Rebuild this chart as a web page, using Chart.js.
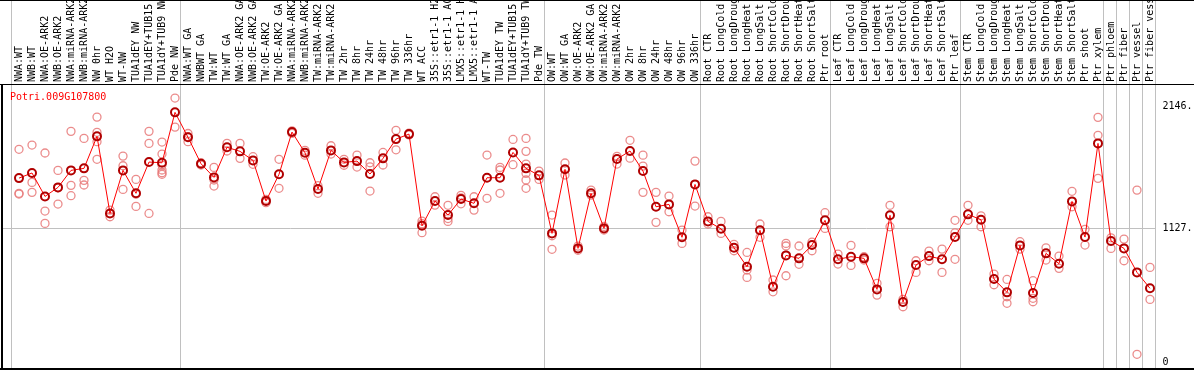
<!DOCTYPE html><html lang="en"><head>
<meta charset="UTF-8">
<title>Potri.009G107800</title>
<script src="https://cdn.jsdelivr.net/npm/chart.js@4.4.0/dist/chart.umd.min.js"></script>
<style>
  html, body { margin: 0; padding: 0; background: #fff; }
  canvas { display: block; }
</style>
</head>
<body>
<canvas id="myChart" width="1194" height="370"></canvas>
<script>
  const geneId = 'Potri.009G107800';

  const samples = [
    'NWA:WT', 'NWB:WT', 'NWA:OE-ARK2', 'NWB:OE-ARK2', 'NWA:miRNA-ARK2', 'NWB:miRNA-ARK2',
    'NW 0hr', 'WT H2O', 'WT-NW', 'TUA1dEY NW', 'TUA1dEY+TUB15 NW', 'TUA1dY+TUB9 NW', 'Pde NW',
    'NWA:WT GA', 'NWBWT GA', 'TW:WT', 'TW:WT GA', 'NWA:OE-ARK2 GA', 'NWB:OE-ARK2 GA',
    'TW:OE-ARK2', 'TW:OE-ARK2 GA', 'NWA:miRNA-ARK2 GA', 'NWB:miRNA-ARK2 GA', 'TW:miRNA-ARK2',
    'TW:miRNA-ARK2 GA', 'TW 2hr', 'TW 8hr', 'TW 24hr', 'TW 48hr', 'TW 96hr', 'TW 336hr',
    'WT ACC', '35S::etr1-1 H2O', '35S::etr1-1 ACC', 'LMX5::etr1-1 H2O', 'LMX5::etr1-1 ACC',
    'WT-TW', 'TUA1dEY TW', 'TUA1dEY+TUB15 TW', 'TUA1dY+TUB9 TW', 'Pde TW',
    'OW:WT', 'OW:WT GA', 'OW:OE-ARK2', 'OW:OE-ARK2 GA', 'OW:miRNA-ARK2', 'OW:miRNA-ARK2 GA',
    'OW 2hr', 'OW 8hr', 'OW 24hr', 'OW 48hr', 'OW 96hr', 'OW 336hr',
    'Root CTR', 'Root LongCold', 'Root LongDrought', 'Root LongHeat', 'Root LongSalt',
    'Root ShortCold', 'Root ShortDrought', 'Root ShortHeat', 'Root ShortSalt', 'Ptr root',
    'Leaf CTR', 'Leaf LongCold', 'Leaf LongDrought', 'Leaf LongHeat', 'Leaf LongSalt',
    'Leaf ShortCold', 'Leaf ShortDrought', 'Leaf ShortHeat', 'Leaf ShortSalt', 'Ptr leaf',
    'Stem CTR', 'Stem LongCold', 'Stem LongDrought', 'Stem LongHeat', 'Stem LongSalt',
    'Stem ShortCold', 'Stem ShortDrought', 'Stem ShortHeat', 'Stem ShortSalt', 'Ptr shoot',
    'Ptr xylem', 'Ptr phloem', 'Ptr fiber', 'Ptr vessel', 'Ptr fiber vessel'
  ];

  // mean expression per sample
  const means = [
    1547, 1590, 1393, 1469, 1612, 1629, 1898, 1250, 1612, 1419, 1682, 1676, 2100,
    1890, 1668, 1553, 1806, 1772, 1696, 1354, 1579, 1934, 1760, 1455, 1780, 1679,
    1690, 1581, 1713, 1875, 1917, 1146, 1354, 1236, 1371, 1335, 1550, 1550, 1763,
    1629, 1570,
    1082, 1621, 956, 1419, 1124, 1707, 1775, 1606, 1306, 1326, 1049, 1494,
    1183, 1121, 961, 801, 1108, 633, 897, 872, 984, 1192,
    864, 886, 872, 611, 1234, 505, 816, 891, 864, 1051,
    1242, 1197, 698, 586, 981, 580, 914, 827, 1351, 1051, 1839,
    1018, 956, 754, 620
  ];

  // individual replicates per sample
  const replicates = [
    [1789, 1419, 1413], [1825, 1511, 1427], [1758, 1270, 1166], [1612, 1329, 1466],
    [1940, 1486, 1399], [1881, 1528, 1489], [2060, 1932, 1853, 1705], [1250, 1222, 1278],
    [1732, 1651, 1452], [1536, 1309, 1412], [1940, 1839, 1250],
    [1850, 1749, 1657, 1615, 1592, 1579], [2220, 1976],
    [1922, 1895, 1853], [1676, 1657], [1637, 1531, 1480], [1839, 1775], [1839, 1713],
    [1727, 1663], [1368, 1340], [1705, 1461], [1945, 1923], [1780, 1740], [1483, 1419],
    [1819, 1749], [1705, 1655], [1740, 1640], [1676, 1642, 1438], [1763, 1657],
    [1949, 1785], [1925, 1910], [1186, 1088, 1164], [1390, 1320], [1318, 1183, 1207],
    [1402, 1331, 1380], [1390, 1278], [1741, 1377], [1637, 1615, 1419], [1872, 1660],
    [1881, 1772, 1665, 1587, 1531, 1461], [1606, 1536],
    [1236, 1062, 948], [1674, 1573], [975, 940], [1446, 1404], [1140, 1110], [1730, 1665],
    [1865, 1715], [1740, 1648, 1427], [1427, 1175], [1396, 1264], [1110, 998], [1690, 1312],
    [1222, 1161], [1183, 1082], [990, 936], [922, 774, 712], [1161, 1049], [690, 591],
    [998, 976, 726], [976, 822], [1009, 936], [1256, 1124],
    [908, 824], [981, 813], [858, 886], [662, 563], [1318, 1138], [527, 465], [852, 754],
    [933, 852], [950, 754], [1192, 1087, 864],
    [1318, 1192], [1230, 1138], [740, 650], [695, 549, 494], [1012, 950], [684, 536, 507],
    [961, 858], [891, 788], [1436, 1306], [1116, 984], [2058, 1907, 1545],
    [1045, 956], [1034, 852], [1446, 65], [796, 527]
  ];

  // group boundaries (number of samples before each divider)
  const dividers = [0, 13, 41, 53, 63, 73, 84, 85, 86, 87, 88];

  const yTicks = [0, 1127, 2146];
  const yTickLabels = ['0', '1127.', '2146.'];

  const monoFont = { family: "'DejaVu Sans Mono', monospace", size: 10 };

  const replicatePoints = [];
  replicates.forEach((reps, i) => {
    reps.forEach(v => replicatePoints.push({ x: samples[i], y: v }));
  });

  const framePlugin = {
    id: 'frame',
    beforeDatasetsDraw(chart) {
      const { ctx, chartArea } = chart;
      const xs = chart.scales.x;
      const ys = chart.scales.y;
      const cell = xs.getPixelForValue(1) - xs.getPixelForValue(0);
      ctx.save();
      ctx.strokeStyle = '#c0c0c0';
      ctx.lineWidth = 1;
      dividers.forEach(k => {
        const x = Math.round(xs.getPixelForValue(0) + (k - 0.5) * cell - 1.5) + 0.5;
        ctx.beginPath();
        ctx.moveTo(x, 0);
        ctx.lineTo(x, chartArea.bottom);
        ctx.stroke();
      });
      const last = Math.round(xs.getPixelForValue(0) + (samples.length - 0.5) * cell - 1.5);
      const gy = Math.round(ys.getPixelForValue(1127)) + 0.5;
      ctx.beginPath();
      ctx.moveTo(2, gy);
      ctx.lineTo(last, gy);
      ctx.stroke();
      ctx.restore();
    },
    afterDraw(chart) {
      const { ctx, chartArea, width } = chart;
      ctx.save();
      ctx.fillStyle = '#000';
      ctx.fillRect(0, 0, width, 1);
      ctx.fillRect(0, chartArea.top - 1, width, 1);
      ctx.fillRect(1, chartArea.top - 1, 2, chartArea.bottom - chartArea.top + 3);
      ctx.fillRect(0, chartArea.bottom, width, 2);
      ctx.fillStyle = '#ff0000';
      ctx.font = "10px 'DejaVu Sans Mono', monospace";
      ctx.textBaseline = 'middle';
      ctx.textAlign = 'left';
      ctx.fillText(geneId, 10, chartArea.top + 12);
      ctx.restore();
    }
  };

  const ctx = document.getElementById('myChart').getContext('2d');
  const myChart = new Chart(ctx, {
    type: 'line',
    data: {
      labels: samples,
      datasets: [
        {
          label: 'mean',
          data: means,
          order: 0,
          borderColor: '#ff0000',
          borderWidth: 1,
          tension: 0,
          fill: false,
          pointStyle: 'circle',
          pointRadius: 4,
          pointBorderWidth: 2,
          pointBorderColor: '#b00000',
          pointBackgroundColor: 'rgba(0,0,0,0)'
        },
        {
          label: 'replicates',
          data: replicatePoints,
          order: 1,
          showLine: false,
          pointStyle: 'circle',
          pointRadius: 4,
          pointBorderWidth: 1.3,
          pointBorderColor: 'rgba(232, 120, 120, 0.85)',
          pointBackgroundColor: 'rgba(0,0,0,0)'
        }
      ]
    },
    options: {
      responsive: false,
      animation: false,
      devicePixelRatio: 1,
      layout: { autoPadding: false, padding: { left: 12.5, right: 0, top: 0, bottom: 2 } },
      plugins: {
        legend: { display: false },
        tooltip: { enabled: false },
        title: { display: false }
      },
      scales: {
        x: {
          type: 'category',
          position: 'top',
          offset: true,
          grid: { display: false, drawTicks: false },
          border: { display: false },
          ticks: {
            autoSkip: false,
            minRotation: 90,
            maxRotation: 90,
            padding: 3,
            labelOffset: 12,
            color: '#000',
            font: monoFont
          },
          afterFit(scale) {
            scale.height = 85;
            scale.paddingLeft = 0;
            scale.paddingRight = 0;
          }
        },
        y: {
          position: 'right',
          min: -50,
          max: 2330,
          grid: { display: false, drawTicks: false },
          border: { display: false },
          afterBuildTicks(axis) { axis.ticks = yTicks.map(v => ({ value: v })); },
          ticks: {
            padding: 6,
            color: '#000',
            font: monoFont,
            callback: v => yTickLabels[yTicks.indexOf(v)]
          },
          afterFit(scale) {
            scale.width = 37.5;
            scale.paddingTop = 0;
            scale.paddingBottom = 0;
          }
        }
      }
    },
    plugins: [framePlugin]
  });
</script>
</body></html>
